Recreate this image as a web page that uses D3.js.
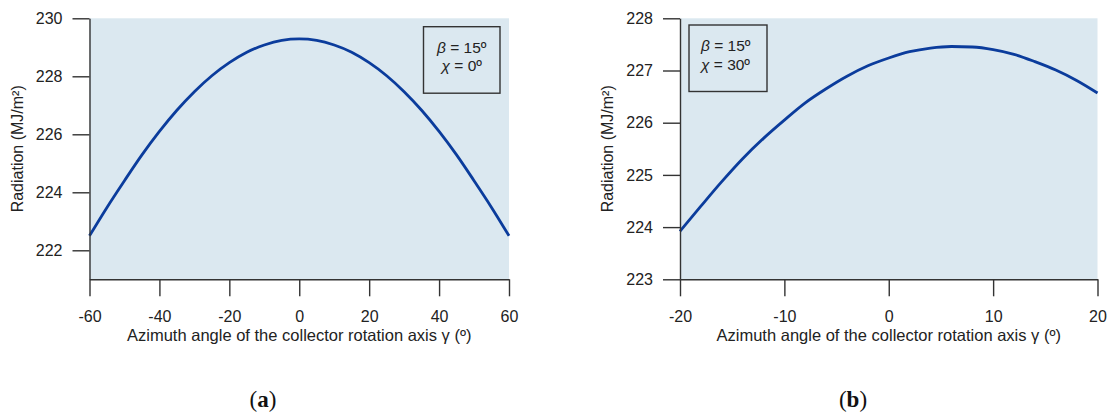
<!DOCTYPE html>
<html>
<head>
<meta charset="utf-8">
<script src="https://cdn.jsdelivr.net/npm/d3@7"></script>
<style>
  html, body { margin: 0; padding: 0; background: #ffffff; }
  svg { display: block; }
  text { font-family: "Liberation Sans", Arial, sans-serif; fill: #222; }
  text.tag { font-family: "Liberation Serif", "DejaVu Serif", serif; fill: #111; }
</style>
</head>
<body>
<svg id="chart" width="1110" height="414"></svg>
<script>
// ---- Data ----
const gammaA = [-60, -55, -50, -45, -40, -35, -30, -25, -20, -15, -10, -5, 0, 5, 10, 15, 20, 25, 30, 35, 40, 45, 50, 55, 60];
const radiationA = [222.50, 223.48, 224.40, 225.29, 226.10, 226.83, 227.47, 228.02, 228.47, 228.83, 229.08, 229.24, 229.29,
                    229.24, 229.08, 228.83, 228.47, 228.02, 227.47, 226.83, 226.10, 225.29, 224.40, 223.48, 222.50];
const xTicksA = [-60, -40, -20, 0, 20, 40, 60];
const yTicksA = [222, 224, 226, 228, 230];

const gammaB = [-20, -18, -16, -14, -12, -10, -8, -6, -4, -2, 0, 2, 4, 6, 8, 10, 12, 14, 16, 18, 20];
const radiationB = [223.92, 224.40, 224.87, 225.31, 225.70, 226.05, 226.38, 226.65, 226.89, 227.09, 227.24, 227.36, 227.43,
                    227.46, 227.45, 227.40, 227.31, 227.17, 227.01, 226.81, 226.57];
const xTicksB = [-20, -10, 0, 10, 20];
const yTicksB = [223, 224, 225, 226, 227, 228];

const xLabel = "Azimuth angle of the collector rotation axis γ (º)";
const yLabel = "Radiation (MJ/m²)";

// ---- Panels ----
const panels = [
  { x: gammaA, y: radiationA, xDomain: [-60, 60], yDomain: [221, 230], xTicks: xTicksA, yTicks: yTicksA,
    left: 89.5, right: 509, top: 18.3, bottom: 279.3, ylabX: 19, tag: "a", tagX: 263,
    legend: { x: 423.5, y: 26.7, w: 76.5, h: 66.5, lines: [["β", " = 15º"], ["χ", " = 0º"]], anchor: "middle" } },
  { x: gammaB, y: radiationB, xDomain: [-20, 20], yDomain: [223, 228], xTicks: xTicksB, yTicks: yTicksB,
    left: 680, right: 1097.5, top: 18.3, bottom: 279.3, ylabX: 609, tag: "b", tagX: 853,
    legend: { x: 689, y: 25, w: 78, h: 66.5, lines: [["β", " = 15º"], ["χ", " = 30º"]], anchor: "start" } }
];

const svg = d3.select("#chart");

panels.forEach(p => {
  const xs = d3.scaleLinear().domain(p.xDomain).range([p.left, p.right]);
  const ys = d3.scaleLinear().domain(p.yDomain).range([p.bottom, p.top]);
  const g = svg.append("g");

  // plot background
  g.append("rect")
    .attr("x", p.left).attr("y", p.top)
    .attr("width", p.right - p.left).attr("height", p.bottom - p.top)
    .attr("fill", "#dbe8f0");

  // curve
  const data = p.x.map((v, i) => [v, p.y[i]]);
  g.append("path")
    .datum(data)
    .attr("fill", "none")
    .attr("stroke", "#0b3c9c")
    .attr("stroke-width", 2.8)
    .attr("stroke-linejoin", "round")
    .attr("d", d3.line().x(d => xs(d[0])).y(d => ys(d[1])).curve(d3.curveMonotoneX));

  // axes
  const xAxis = g.append("g")
    .attr("transform", `translate(0,${p.bottom})`)
    .call(d3.axisBottom(xs).tickValues(p.xTicks).tickSize(17).tickPadding(14).tickSizeOuter(0).tickFormat(d3.format("d")));
  const yAxis = g.append("g")
    .attr("transform", `translate(${p.left},0)`)
    .call(d3.axisLeft(ys).tickValues(p.yTicks).tickSize(17).tickPadding(10).tickSizeOuter(0).tickFormat(d3.format("d")));

  [xAxis, yAxis].forEach(a => {
    a.select(".domain").attr("stroke", "#333").attr("stroke-width", 1.4);
    a.selectAll(".tick line").attr("stroke", "#333").attr("stroke-width", 1.4);
    a.selectAll(".tick text").attr("font-size", 16).attr("fill", "#222");
  });
  xAxis.selectAll(".tick text").text(d => d < 0 ? "-" + Math.abs(d) : d);

  // axis labels
  g.append("text")
    .attr("x", (p.left + p.right) / 2).attr("y", p.bottom + 62)
    .attr("text-anchor", "middle").attr("font-size", 16.5)
    .text(xLabel);
  g.append("text")
    .attr("transform", `translate(${p.ylabX},${(p.top + p.bottom) / 2}) rotate(-90)`)
    .attr("text-anchor", "middle").attr("dominant-baseline", "middle").attr("font-size", 16)
    .text(yLabel);

  // legend box
  const L = p.legend;
  g.append("rect")
    .attr("x", L.x).attr("y", L.y).attr("width", L.w).attr("height", L.h)
    .attr("fill", "none").attr("stroke", "#333").attr("stroke-width", 1.4);
  L.lines.forEach((ln, i) => {
    const t = g.append("text")
      .attr("x", L.anchor === "middle" ? L.x + L.w / 2 : L.x + 12)
      .attr("y", L.y + 26 + i * 18.5)
      .attr("text-anchor", L.anchor)
      .attr("font-size", 15.5);
    t.append("tspan").attr("font-style", "italic").text(ln[0]);
    t.append("tspan").text(ln[1]);
  });

  // panel tag
  const tg = svg.append("text")
    .attr("class", "tag")
    .attr("x", p.tagX).attr("y", 407)
    .attr("text-anchor", "middle")
    .attr("font-size", 23);
  tg.append("tspan").text("(");
  tg.append("tspan").attr("font-weight", "bold").text(p.tag);
  tg.append("tspan").text(")");
});
</script>
</body>
</html>
